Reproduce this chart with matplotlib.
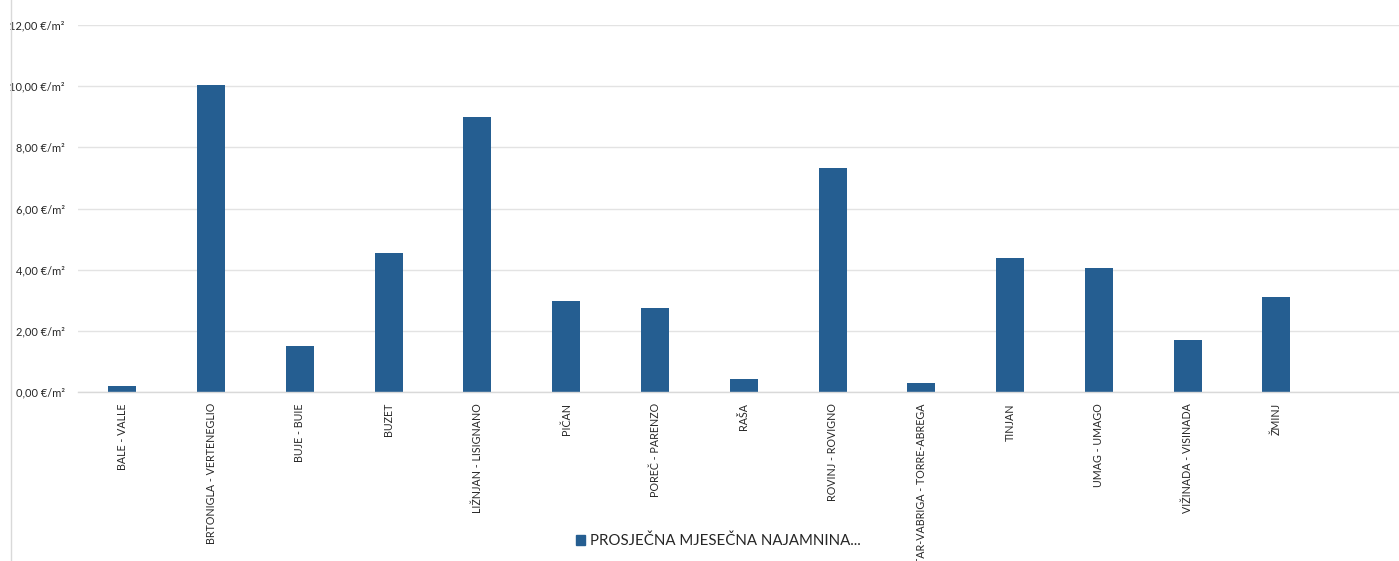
import matplotlib
matplotlib.use("Agg")
import matplotlib.pyplot as plt
from matplotlib.lines import Line2D
from matplotlib.patches import Patch
import numpy as np

categories = ["BALE - VALLE", "BRTONIGLA - VERTENEGLIO", "BUJE - BUIE", "BUZET",
              "LIŽNJAN - LISIGNANO", "PIČAN", "POREČ - PARENZO", "RAŠA",
              "ROVINJ - ROVIGNO", "TAR-VABRIGA - TORRE-ABREGA", "TINJAN",
              "UMAG - UMAGO", "VIŽINADA - VISINADA", "ŽMINJ"]
values = [0.18, 10.04, 1.51, 4.55, 8.99, 2.97, 2.76, 0.43, 7.31, 0.28, 4.37, 4.05, 1.71, 3.12]
yticks = [0, 2, 4, 6, 8, 10, 12]
series_name = "PROSJEČNA MJESEČNA NAJAMNINA..."

plt.rcParams['font.family'] = ['Lato', 'DejaVu Sans']
W, H = 1399, 561
fig = plt.figure(figsize=(W / 100, H / 100), dpi=100)
left = 78 / W
bottom = (H - 392) / H
top = (H - 25) / H
ax = fig.add_axes([left, bottom, 1 - left, top - bottom])

bar_color = "#255E91"
text_color = "#262626"
x = np.arange(len(categories))
ax.bar(x, values, width=0.315, color=bar_color, zorder=3)

ax.set_ylim(0, 12)
ax.set_xlim(-0.5, -0.5 + (W - 78) / 88.77)
ax.set_yticks(yticks)
ax.set_yticklabels([f"{v:.2f}".replace(".", ",") + " €/m²" for v in yticks],
                   fontsize=7.9, color=text_color)
ax.set_xticks(x)
ax.set_xticklabels(categories, rotation=90, fontsize=7.7, color=text_color, va="top")
ax.tick_params(axis="both", length=0)
ax.tick_params(axis="y", pad=9.5)
ax.tick_params(axis="x", pad=8)
ax.grid(axis="y", color="#e3e3e3", linewidth=1, zorder=0)
for s in ["left", "right", "top"]:
    ax.spines[s].set_visible(False)
ax.spines["bottom"].set_color("#d9d9d9")
ax.spines["bottom"].set_linewidth(1)
ax.spines["bottom"].set_zorder(4)

# chart frame line at left
fig.add_artist(Line2D([10.5 / W, 10.5 / W], [0, 1], color="#d9d9d9", linewidth=1))

handle = Patch(facecolor=bar_color, edgecolor=bar_color)
fig.legend([handle], [series_name], loc="center", bbox_to_anchor=(718 / W, 1 - 541 / H),
           frameon=False, fontsize=10.8, handlelength=0.6, handleheight=0.6,
           handletextpad=0.35, labelcolor=text_color)

fig.savefig("out.png", dpi=100)
